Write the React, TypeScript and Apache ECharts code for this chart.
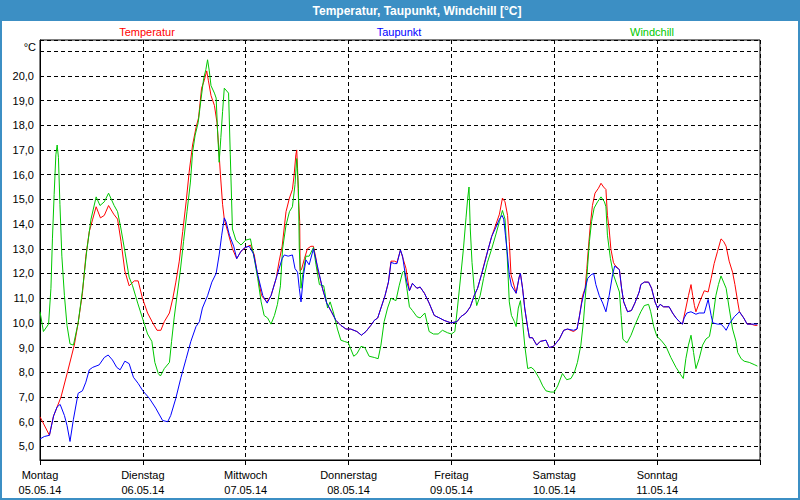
import React, { useEffect, useRef } from "react";
import * as echarts from "echarts";

const chartTitle = "Temperatur, Taupunkt, Windchill [°C]";
const unitLabel = "°C";
const dayNames = ["Montag", "Dienstag", "Mittwoch", "Donnerstag", "Freitag", "Samstag", "Sonntag"];
const dayDates = ["05.05.14", "06.05.14", "07.05.14", "08.05.14", "09.05.14", "10.05.14", "11.05.14"];
const seriesNames = ["Temperatur", "Taupunkt", "Windchill"];
const seriesColors = ["#ff0000", "#0000ff", "#00c800"];

// [hours since Monday 00:00, °C]
const temperatur: [number, number][] = [
  [0, 6.2], [2.2, 5.45], [3.1, 6.2], [4.9, 7.0], [6.4, 8.0], [8, 9.1], [8.9, 10.0], [9.9, 11.2], [10.7, 12.7],
  [11.5, 13.7], [12.3, 14.2], [13.1, 14.7], [14.1, 14.25], [15, 14.35], [16, 14.75], [17.2, 14.4], [18.1, 14.2],
  [18.9, 13.3], [19.8, 12.1], [20.8, 11.5], [22, 11.7], [22.9, 11.7], [23.9, 11.0], [25.1, 10.4], [26.3, 10.0],
  [27.3, 9.7], [28.2, 9.7], [29, 10.05], [30.2, 10.4], [31, 11.0], [31.7, 11.65], [32.5, 12.5], [33.3, 13.7],
  [34.1, 14.9], [34.8, 16.1], [35.6, 17.2], [36.4, 17.9], [37, 18.3], [37.7, 19.5], [38.3, 19.8], [38.9, 20.2],
  [39.3, 19.8], [39.9, 19.2], [40.7, 18.8], [41.3, 18.1], [41.7, 17.1], [42.1, 16.0], [42.6, 14.8], [43, 14.2],
  [43.8, 13.7], [44.9, 13.0], [45.9, 12.6], [46.9, 12.9], [48, 13.05], [49.1, 13.15], [50, 12.75], [50.8, 11.9],
  [51.7, 11.1], [52.9, 10.85], [53.9, 11.1], [55.1, 11.8], [55.8, 12.5], [56.5, 13.1], [57.4, 14.5], [58.2, 15.05],
  [58.9, 15.4], [59.3, 16.0], [59.7, 16.8], [59.9, 17.0], [60.1, 16.25], [60.3, 15.05], [60.6, 14.1], [60.7, 12.1],
  [61.0, 12.15], [61.7, 12.6], [62.4, 13.0], [63.2, 13.1], [63.8, 13.1], [64.4, 12.6], [64.8, 12.1], [65.2, 11.9],
  [65.9, 11.4], [66.9, 10.8], [68, 10.45], [69.05, 10.1], [70.2, 9.9], [71.4, 9.75], [72.5, 9.75], [73.95, 9.65],
  [75, 9.5], [76.05, 9.65], [77.2, 9.9], [78, 10.1], [78.8, 10.2], [79.55, 10.6], [80.5, 11.1], [81.3, 11.65],
  [81.9, 12.5], [82.7, 12.5], [83.3, 12.45], [84.1, 12.95], [84.8, 12.55], [85.4, 12.2], [86.2, 11.3], [86.9, 11.6],
  [87.95, 11.4], [88.7, 11.45], [89.7, 11.2], [90.8, 10.8], [92, 10.3], [93.2, 10.2], [94.3, 10.1], [95.9, 10.0],
  [97.3, 10.05], [98.2, 10.25], [99.4, 10.4], [100.4, 10.65], [101.3, 11.1], [102.1, 11.4], [103, 11.95],
  [103.8, 12.5], [104.6, 13.0], [105.4, 13.5], [106.4, 14.0], [107.2, 14.4], [107.9, 15.05], [108.5, 14.9],
  [109.1, 14.35], [109.5, 13.3], [109.9, 11.95], [111.1, 11.2], [111.8, 11.85], [112.1, 12.0], [112.6, 11.4],
  [113.1, 10.6], [113.8, 9.8], [114.2, 9.4], [114.9, 9.4], [115.9, 9.1], [116.7, 9.25], [118.05, 9.3], [118.8, 9.0],
  [119.8, 9.05], [121.2, 9.35], [122.2, 9.7], [123.1, 9.75], [124.5, 9.65], [125.3, 9.75], [125.8, 10.2],
  [126.6, 11.1], [127.2, 11.4], [127.6, 12.2], [127.9, 12.9], [128.4, 13.95], [128.9, 14.75], [129.5, 15.25],
  [130.3, 15.45], [130.9, 15.65], [131.5, 15.5], [132.05, 15.4], [132.4, 14.35], [132.8, 13.8], [133.2, 13.0],
  [133.8, 12.45], [134.1, 12.35], [135.2, 12.15], [135.7, 11.4], [136.2, 10.85], [137.1, 10.45], [138, 10.5],
  [138.8, 10.8], [139.8, 11.25], [140.2, 11.55], [141, 11.65], [142, 11.65], [142.7, 11.4], [143.5, 10.85],
  [144.1, 10.6], [144.7, 10.75], [145.5, 10.65], [146.8, 10.65], [147.6, 10.4], [148.4, 10.2], [149.2, 10.05],
  [149.9, 9.95], [150.7, 10.6], [151.3, 11.1], [151.9, 11.55], [152.3, 11.1], [152.7, 10.7], [153.05, 10.45],
  [153.8, 10.8], [154.4, 11.05], [155, 11.3], [155.9, 11.25], [156.6, 11.8], [157.3, 12.4], [158.1, 12.9],
  [158.9, 13.4], [159.5, 13.3], [160.1, 13.1], [160.8, 12.5], [161.6, 12.05], [162.15, 11.55], [162.8, 10.85],
  [163.2, 10.45], [164.2, 10.2], [165, 9.95], [165.9, 9.95], [166.8, 9.9], [167.4, 9.9],
];

const taupunkt: [number, number][] = [
  [0, 5.3], [1, 5.4], [2.2, 5.45], [3.2, 6.25], [4, 6.6], [4.7, 6.7], [5.7, 6.25], [6.3, 5.85], [7, 5.2], [7.8, 6.1],
  [8.9, 7.15], [9.9, 7.25], [10.7, 7.6], [11.5, 8.1], [12.3, 8.2], [13.8, 8.3], [15, 8.6], [15.9, 8.7], [16.9, 8.5],
  [17.9, 8.2], [18.7, 8.1], [19.8, 8.45], [20.8, 8.35], [21.8, 7.8], [22.9, 7.55], [24, 7.25], [25.5, 6.95],
  [27, 6.55], [28.6, 6.05], [29.8, 6.0], [30.5, 6.25], [31.7, 6.95], [32.9, 7.8], [34.1, 8.55], [35.2, 9.25],
  [36.4, 9.85], [37.2, 10.05], [37.9, 10.6], [39.1, 11.1], [40.1, 11.65], [41.1, 12.0], [41.8, 12.75], [42.4, 13.55],
  [43, 14.25], [43.4, 14.1], [44.2, 13.55], [45.2, 13.1], [45.9, 12.6], [46.9, 12.9], [47.8, 13.05], [48.8, 13.1],
  [49.8, 12.8], [50.8, 11.95], [52, 11.1], [53, 10.8], [53.9, 11.1], [55.1, 11.8], [55.8, 12.2], [56.5, 12.6],
  [57, 12.75], [57.9, 12.7], [58.9, 12.75], [59.5, 12.2], [60.1, 12.05], [60.5, 11.4], [60.9, 10.85], [61.5, 11.95],
  [62.05, 12.55], [62.8, 12.35], [63.8, 13.0], [64.4, 12.55], [65.2, 11.95], [65.9, 11.4], [66.9, 10.8], [68, 10.45],
  [69.05, 10.1], [70.2, 9.9], [71.4, 9.75], [72.5, 9.75], [73.95, 9.65], [75, 9.5], [76.05, 9.65], [77.2, 9.9],
  [78, 10.1], [78.8, 10.2], [79.55, 10.6], [80.5, 11.1], [81.3, 11.65], [81.9, 12.45], [82.7, 12.4], [83.3, 12.4],
  [84.1, 12.95], [84.6, 12.7], [85.15, 12.05], [85.6, 11.65], [86.2, 11.3], [86.9, 11.6], [87.95, 11.4],
  [88.7, 11.45], [89.7, 11.2], [90.8, 10.8], [92, 10.3], [93.2, 10.2], [94.3, 10.1], [95.9, 10.0], [97.3, 10.05],
  [98.2, 10.25], [99.4, 10.4], [100.4, 10.65], [101.3, 11.1], [102.1, 11.4], [103, 11.95], [103.8, 12.45],
  [104.6, 13.0], [105.4, 13.5], [106.2, 13.8], [107.2, 14.2], [107.8, 14.35], [108.2, 14.2], [108.6, 13.55],
  [109, 12.9], [109.5, 11.95], [110, 11.5], [111.1, 11.2], [111.8, 11.85], [112.1, 12.0], [112.6, 11.4],
  [113.1, 10.6], [113.8, 9.8], [114.2, 9.4], [114.9, 9.4], [115.9, 9.1], [116.7, 9.25], [118.05, 9.3], [118.8, 9.0],
  [119.8, 9.05], [121.2, 9.35], [122.2, 9.7], [123.1, 9.75], [124.5, 9.7], [125.3, 9.75], [125.8, 10.2],
  [126.4, 10.8], [127, 11.25], [127.8, 11.8], [128.6, 11.95], [129.2, 12.0], [129.7, 11.55], [130.5, 11.1],
  [131.3, 10.8], [132.05, 10.45], [132.8, 11.1], [133.6, 11.95], [134.1, 12.3], [135.2, 12.15], [135.7, 11.4],
  [136.2, 10.85], [137.1, 10.45], [138, 10.5], [138.8, 10.8], [139.8, 11.25], [140.2, 11.55], [141, 11.65],
  [142, 11.65], [142.7, 11.4], [143.5, 10.85], [144.1, 10.6], [144.7, 10.75], [145.5, 10.65], [146.8, 10.65],
  [147.6, 10.4], [148.4, 10.2], [149.2, 10.05], [149.9, 9.95], [150.3, 10.2], [150.95, 10.4], [151.9, 10.45],
  [153.05, 10.35], [153.8, 10.4], [155, 10.4], [155.9, 10.95], [156.6, 10.3], [157, 10.0], [158.1, 9.95],
  [158.9, 9.95], [159.7, 9.8], [160.1, 9.7], [160.8, 9.95], [162, 10.25], [163.2, 10.45], [164.2, 10.2], [165, 9.95],
  [165.9, 9.95], [166.8, 9.95], [167.4, 9.95],
];

const windchill: [number, number][] = [
  [0, 10.45], [0.8, 9.65], [2, 9.95], [2.55, 11.4], [2.9, 13.4], [3.3, 15.2], [3.7, 16.8], [4, 17.2], [4.3, 16.7],
  [4.65, 14.8], [5.1, 12.7], [5.7, 11.1], [6.3, 9.9], [7, 9.15], [7.8, 9.1], [8.9, 10.0], [9.9, 11.3], [10.9, 12.9],
  [11.9, 14.2], [13.1, 15.1], [14, 14.75], [15, 14.9], [16, 15.25], [17.3, 14.75], [18.1, 14.5], [18.9, 13.8],
  [19.8, 12.9], [20.8, 11.85], [21.6, 11.5], [22.8, 10.8], [23.9, 10.2], [25.1, 9.55], [26.1, 9.25], [26.8, 8.4],
  [27.6, 7.95], [28.1, 7.85], [29, 8.15], [30.2, 8.4], [30.7, 9.25], [31.3, 10.2], [31.9, 11.0], [32.7, 12.05],
  [33.5, 13.3], [34.3, 14.5], [35.1, 15.7], [35.6, 16.9], [36.2, 17.6], [36.9, 18.1], [37.6, 19.1], [38.2, 19.9],
  [38.7, 20.25], [39.1, 20.65], [39.5, 20.2], [39.9, 19.6], [40.7, 19.3], [41.1, 19.1], [41.4, 17.9], [41.8, 16.5],
  [42.2, 17.5], [42.6, 18.55], [43, 19.5], [44, 19.3], [44.4, 16.8], [44.9, 13.8], [45.7, 13.35], [46.9, 13.15],
  [48, 13.35], [49.1, 13.4], [50, 12.6], [50.8, 11.8], [51.6, 10.85], [52.3, 10.3], [53.1, 10.2], [53.9, 9.95],
  [54.7, 10.3], [55.4, 10.75], [56.1, 11.5], [56.6, 13.0], [57.4, 13.95], [58.2, 14.5], [58.9, 14.7], [59.5, 15.6],
  [59.9, 16.65], [60.3, 15.45], [60.5, 13.0], [60.9, 11.4], [61.3, 11.95], [62.05, 12.7], [62.8, 12.7],
  [63.8, 13.05], [64.4, 12.35], [65.2, 11.55], [66.2, 11.5], [67.1, 10.6], [67.7, 10.85], [68.5, 10.4], [69.4, 9.75],
  [70.2, 9.3], [71, 9.25], [71.9, 9.2], [72.5, 8.95], [73.2, 8.65], [73.95, 8.75], [74.9, 9.05], [75.8, 9.0],
  [76.8, 8.65], [78, 8.6], [78.9, 8.55], [79.55, 9.1], [80.3, 10.05], [81.1, 10.6], [81.9, 11.0], [83.05, 10.9],
  [83.8, 11.5], [84.6, 12.05], [85, 12.1], [85.6, 11.4], [86.2, 10.65], [86.9, 10.5], [87.95, 10.25], [88.7, 10.2],
  [89.8, 10.4], [90.8, 9.65], [91.8, 9.55], [92.9, 9.55], [93.9, 9.7], [95.1, 9.6], [96, 9.55], [96.8, 9.65],
  [97.4, 10.6], [98.2, 11.95], [98.8, 13.0], [99.4, 14.25], [99.8, 15.05], [100.1, 15.5], [100.4, 13.8],
  [100.8, 12.45], [101.3, 11.4], [101.9, 10.7], [102.7, 11.1], [103.5, 11.8], [104.4, 12.45], [105.4, 13.0],
  [106.4, 13.6], [107.2, 14.1], [107.9, 14.55], [108.5, 14.2], [109, 12.75], [109.5, 10.85], [110, 10.3],
  [110.7, 10.05], [111.1, 9.85], [111.6, 10.6], [112.1, 10.9], [112.6, 10.05], [113.1, 9.1], [113.8, 8.15],
  [114.6, 8.2], [115.3, 8.1], [116.5, 7.75], [117.3, 7.45], [118.05, 7.25], [119.2, 7.2], [120, 7.2], [120.8, 7.45],
  [121.9, 7.95], [122.9, 7.7], [123.9, 7.75], [124.7, 8.0], [125.4, 8.4], [126.2, 9.1], [126.8, 10.05], [127.4, 11.4],
  [127.8, 12.35], [128.2, 13.3], [128.7, 14.1], [129.3, 14.65], [130.1, 14.9], [130.9, 15.1], [131.7, 14.9],
  [132.05, 14.7], [132.4, 13.55], [133.1, 12.6], [133.8, 11.95], [134.8, 11.45], [135.2, 11.25], [135.6, 10.3],
  [136, 9.35], [136.5, 9.25], [137, 9.2], [137.9, 9.5], [138.8, 9.9], [139.8, 10.3], [140.2, 10.45], [141, 10.7],
  [142, 10.75], [142.5, 10.45], [143.2, 9.85], [143.95, 9.45], [144.9, 9.3], [146.05, 9.05], [147.2, 8.6],
  [148.4, 8.2], [149.5, 7.9], [150.1, 7.75], [150.7, 8.55], [151.3, 9.1], [151.9, 9.5], [152.5, 8.8], [153.05, 8.15],
  [153.8, 8.55], [154.6, 9.1], [155.4, 9.35], [156.2, 9.45], [157, 10.2], [157.7, 11.1], [158.3, 11.55],
  [158.9, 11.9], [159.5, 11.65], [160.1, 11.4], [160.8, 10.6], [161.6, 9.75], [162.4, 9.25], [162.8, 8.8],
  [163.6, 8.55], [164.3, 8.45], [165.5, 8.4], [166.8, 8.3], [167.4, 8.25],
];

const FONT = '"Liberation Sans", Arial, sans-serif';
const FRAME_BLUE = "#3c8fc4";

export default function App() {
  const ref = useRef<HTMLDivElement>(null);

  useEffect(() => {
    if (!ref.current) return;
    const chart = echarts.init(ref.current, null, { renderer: "svg" });
    const dashed = { color: "#000", width: 1, type: [4, 3] };
    const legendX = [147, 399, 652];
    chart.setOption({
      animation: false,
      backgroundColor: "#ffffff",
      graphic: [
        { type: "rect", shape: { x: 0, y: 0, width: 800, height: 21 }, style: { fill: FRAME_BLUE }, silent: true },
        {
          type: "rect",
          shape: { x: 1, y: 1, width: 798, height: 498 },
          style: { fill: "none", stroke: FRAME_BLUE, lineWidth: 2 },
          silent: true,
        },
        {
          type: "text",
          x: 417,
          y: 10.5,
          style: {
            text: chartTitle,
            fill: "#ffffff",
            font: `bold 12px ${FONT}`,
            textAlign: "center",
            textVerticalAlign: "middle",
          },
        },
        ...seriesNames.map((n, i) => ({
          type: "text",
          x: legendX[i],
          y: 32,
          style: {
            text: n,
            fill: seriesColors[i],
            font: `11px ${FONT}`,
            textAlign: "center",
            textVerticalAlign: "middle",
          },
        })),
        {
          type: "text",
          x: 36,
          y: 46.5,
          style: {
            text: unitLabel,
            fill: "#000",
            font: `11px ${FONT}`,
            textAlign: "right",
            textVerticalAlign: "middle",
          },
        },
      ],
      grid: {
        left: 40,
        right: 40,
        top: 40,
        bottom: 40,
        show: true,
        borderColor: "#000",
        borderWidth: 1,
        backgroundColor: "#ffffff",
      },
      xAxis: {
        type: "value",
        min: 0,
        max: 168,
        interval: 24,
        axisLine: { show: true, lineStyle: { color: "#000", width: 1 } },
        axisTick: { show: true, length: 5, inside: false, lineStyle: { color: "#000" } },
        splitLine: { show: true, lineStyle: dashed },
        axisLabel: {
          margin: 8,
          color: "#000",
          fontFamily: FONT,
          fontSize: 11,
          lineHeight: 14.5,
          formatter: (v: number) => {
            const i = Math.round(v / 24);
            return i >= 0 && i < dayNames.length ? `${dayNames[i]}\n${dayDates[i]}` : "";
          },
        },
      },
      yAxis: {
        type: "value",
        min: 4.45,
        max: 21.45,
        splitNumber: 17,
        axisLine: { show: true, lineStyle: { color: "#000", width: 1 } },
        axisTick: { show: false },
        splitLine: { show: true, lineStyle: dashed },
        axisLabel: {
          margin: 6,
          color: "#000",
          fontFamily: FONT,
          fontSize: 11,
          formatter: (v: number) => {
            const r = Math.round(v);
            if (Math.abs(v - r) > 1e-6 || r > 20) return "";
            return r.toFixed(1).replace(".", ",");
          },
        },
      },
      series: [
        { name: seriesNames[0], data: temperatur, color: seriesColors[0] },
        { name: seriesNames[2], data: windchill, color: seriesColors[2] },
        { name: seriesNames[1], data: taupunkt, color: seriesColors[1] },
      ].map((s) => ({
        type: "line",
        name: s.name,
        data: s.data,
        showSymbol: false,
        symbol: "none",
        silent: true,
        lineStyle: { color: s.color, width: 1 },
        itemStyle: { color: s.color },
      })),
    });
    return () => chart.dispose();
  }, []);

  return <div ref={ref} style={{ position: "absolute", left: 0, top: 0, width: 800, height: 500 }} />;
}
